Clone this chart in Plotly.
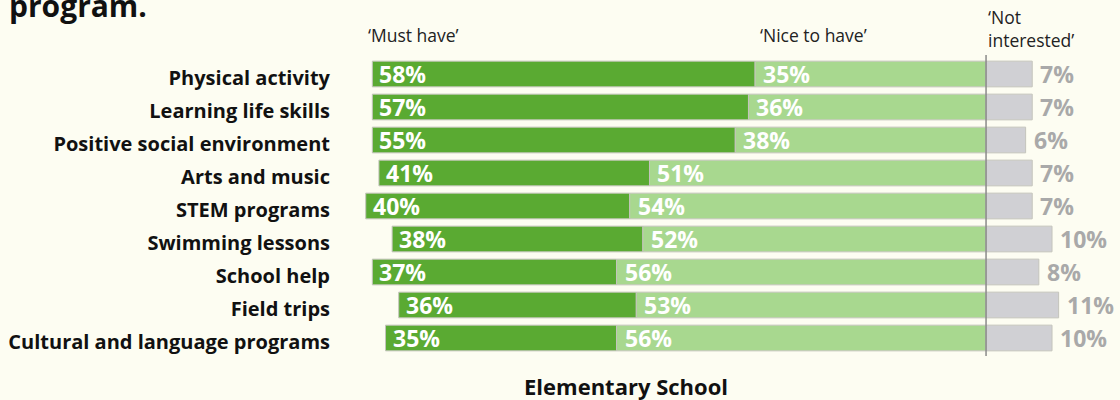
import plotly.graph_objects as go

programs = ["Physical activity", "Learning life skills", "Positive social environment",
            "Arts and music", "STEM programs", "Swimming lessons", "School help",
            "Field trips", "Cultural and language programs"]
must_have = [58, 57, 55, 41, 40, 38, 37, 36, 35]
nice_to_have = [35, 36, 38, 51, 54, 52, 56, 53, 56]
not_interested = [7, 7, 6, 7, 7, 10, 8, 11, 10]

FONT = "Open Sans"
BG = "#fdfdf2"
DARK = "#5aaa32"
LIGHT = "#a8d88f"
GREY = "#d0d0d4"
EDGE = "#c4c4bc"

# must and nice both end at the zero line, not interested starts from it
must_base = [-(m + n) for m, n in zip(must_have, nice_to_have)]
nice_base = [-n for n in nice_to_have]

fig = go.Figure()

for vals, base, col in [(must_have, must_base, DARK),
                        (nice_to_have, nice_base, LIGHT),
                        (not_interested, [0] * len(programs), GREY)]:
    fig.add_trace(go.Bar(
        y=programs, x=vals, base=base, orientation="h",
        marker=dict(color=col, line=dict(color=EDGE, width=1)),
        hoverinfo="skip"))

# value labels (annotations so plotly does not shrink them to the bar height)
label_font = dict(family=FONT, size=23, weight="bold")
for prog, m, mb, n, nb, ni in zip(programs, must_have, must_base,
                                  nice_to_have, nice_base, not_interested):
    fig.add_annotation(x=mb, y=prog, text=f"{m}%", showarrow=False,
                       xanchor="left", xshift=5,
                       font=dict(label_font, color="white"))
    fig.add_annotation(x=nb, y=prog, text=f"{n}%", showarrow=False,
                       xanchor="left", xshift=6,
                       font=dict(label_font, color="white"))
    fig.add_annotation(x=ni, y=prog, text=f"{ni}%", showarrow=False,
                       xanchor="left", xshift=6,
                       font=dict(label_font, color="#a9a9a9"))

fig.add_shape(type="line", xref="x", yref="paper", x0=0, x1=0, y0=0, y1=1.003,
              line=dict(color="#8a8a8a", width=1.5))

header_font = dict(family=FONT, size=17.5, color="#222222")
fig.add_annotation(x=-93.9, y=1.07, xref="x", yref="paper", text="‘Must have’",
                   showarrow=False, xanchor="left", yanchor="middle", font=header_font)
fig.add_annotation(x=-34.5, y=1.07, xref="x", yref="paper", text="‘Nice to have’",
                   showarrow=False, xanchor="left", yanchor="middle", font=header_font)
fig.add_annotation(x=0.0, y=1.092, xref="x", yref="paper", text="‘Not<br>interested’",
                   showarrow=False, xanchor="left", yanchor="middle", align="left",
                   font=header_font)

fig.add_annotation(x=0.3667, y=-0.1, xref="paper", yref="paper",
                   text="<b>Elementary School</b>", showarrow=False,
                   xanchor="center", yanchor="middle",
                   font=dict(family=FONT, size=22, color="#111111"))

fig.add_annotation(x=-0.2526, y=1.093, xref="paper", yref="paper", xshift=6,
                   text="<b>program.</b>", showarrow=False,
                   xanchor="right", yanchor="bottom",
                   font=dict(family=FONT, size=30, color="#111111"))

fig.update_layout(
    width=1120, height=400,
    margin=dict(l=340, r=0, t=56, b=44),
    paper_bgcolor=BG, plot_bgcolor=BG,
    barmode="overlay", bargap=0.22,
    showlegend=False,
    xaxis=dict(range=[-97.9, 20.3], visible=False, fixedrange=True),
    yaxis=dict(autorange="reversed", showgrid=False, zeroline=False,
               ticks="", ticklabelstandoff=9, ticklabelshift=-4, fixedrange=True,
               tickfont=dict(family=FONT, size=20, color="#111111", weight="bold")),
)

fig.write_html("out.html", config=dict(displayModeBar=False),
               post_script="document.body.style.margin='0';")
